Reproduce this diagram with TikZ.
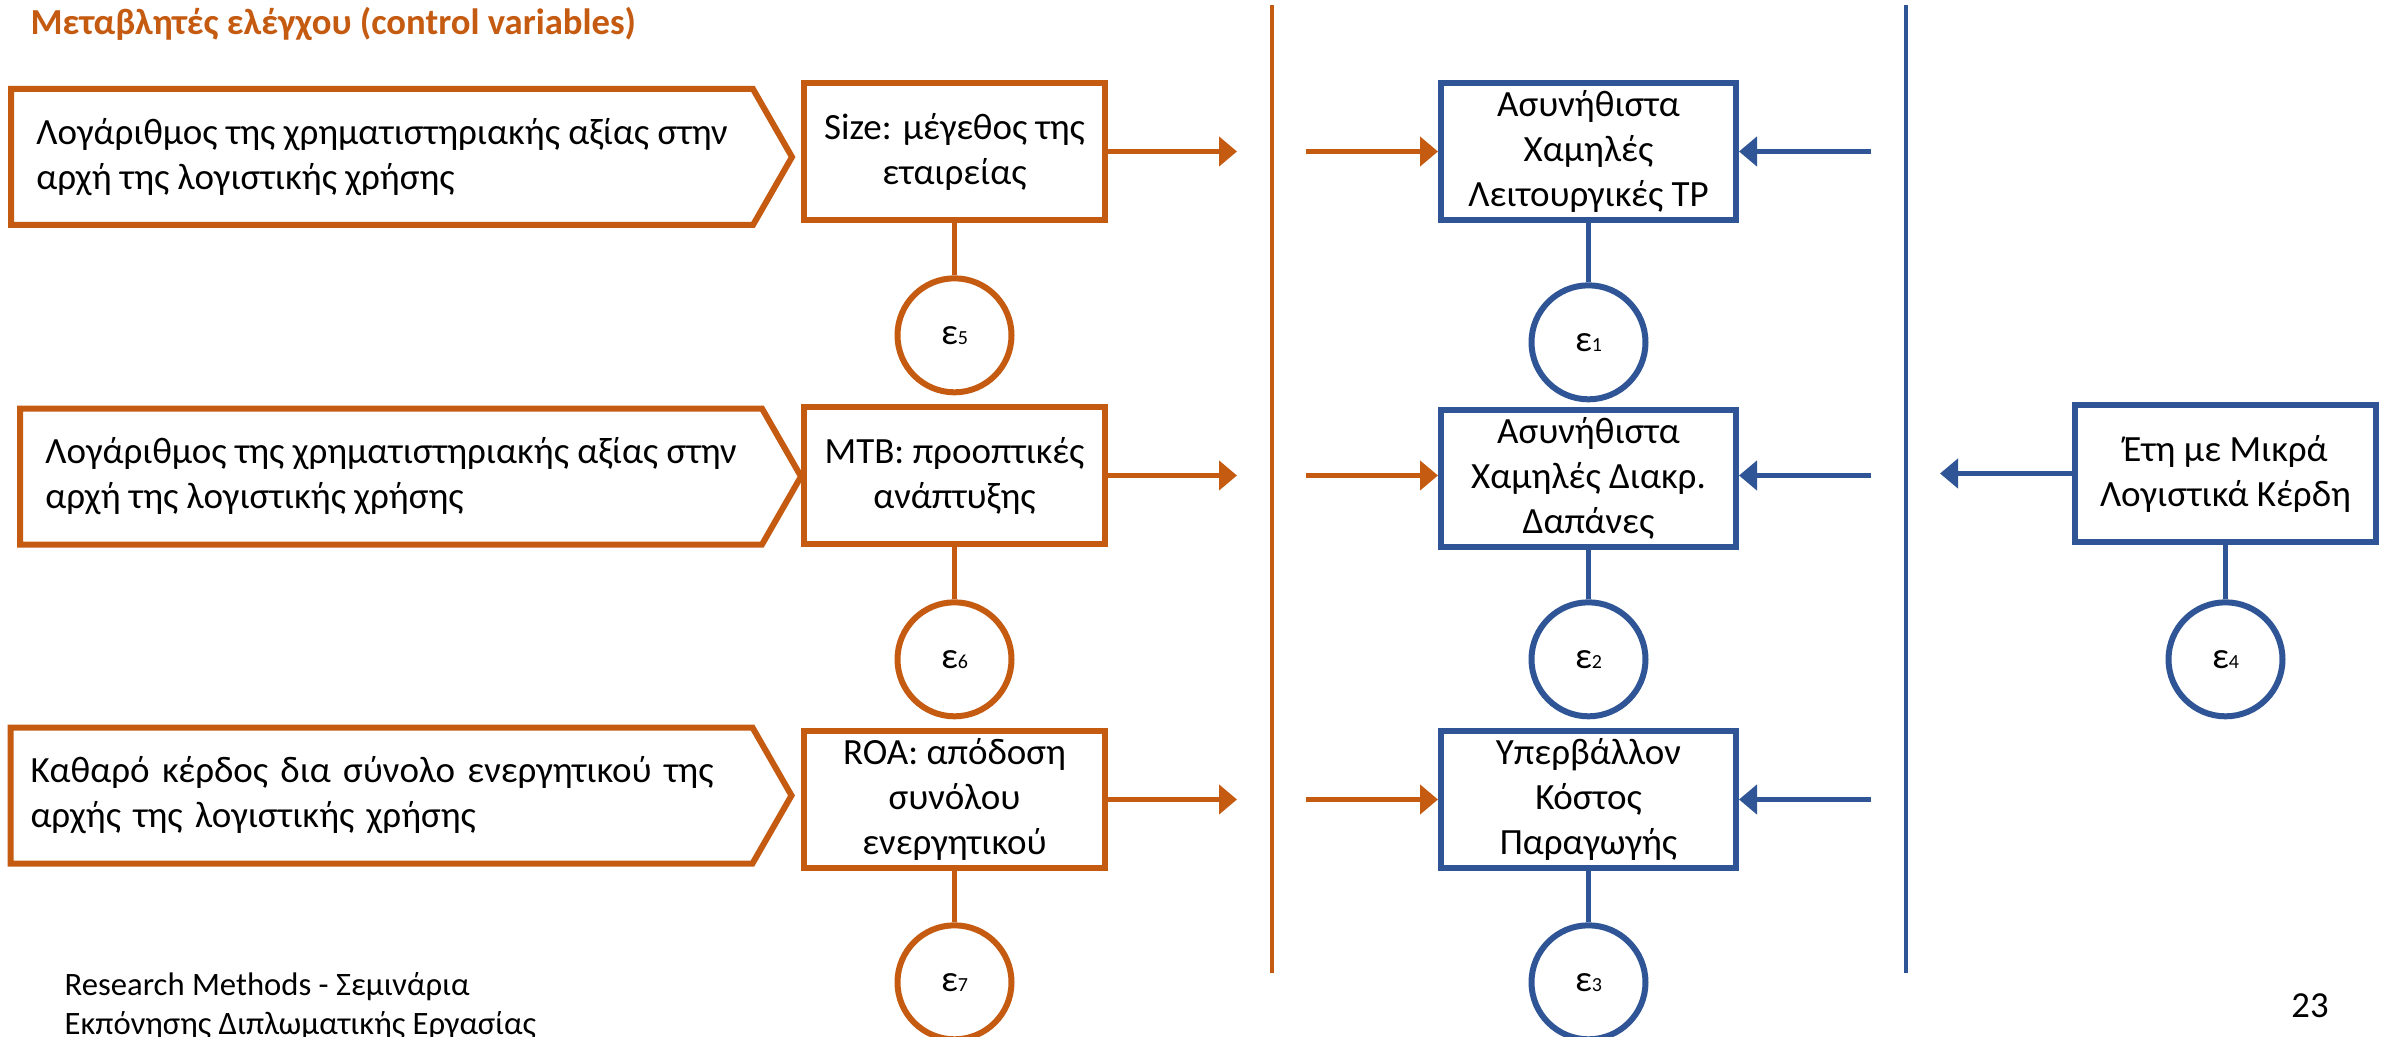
\documentclass[tikz,border=0pt]{standalone}
\usepackage{fontspec}
\setmainfont{Carlito}
\usepackage{tikz}
\usetikzlibrary{arrows.meta,positioning,calc}
\definecolor{ctrlorange}{RGB}{197,90,17}
\definecolor{mainblue}{RGB}{47,85,151}
\newcommand\errlbl[1]{ε{\fontsize{6}{7}\selectfont #1}}

\begin{document}
\begin{tikzpicture}[
  x=0.3pt, y=-0.3pt, >={Triangle[length=5.4pt,width=8.7pt]},
  txt/.style={font=\fontsize{11.1}{13.5}\selectfont},
  proxy/.style={txt, minimum width=222.6pt, minimum height=40.8pt,
                inner xsep=2pt, outer sep=0pt, align=left},
  ctrl/.style={txt, draw=ctrlorange, line width=1.8pt, align=center, inner sep=0pt,
               minimum width=90.3pt, minimum height=41.1pt},
  dep/.style={ctrl, draw=mainblue, minimum width=88.5pt},
  err/.style={txt, circle, draw=#1, line width=1.8pt, minimum size=34.2pt, inner sep=0pt},
  link/.style={draw=#1, line width=1.35pt},
  flow/.style={->, draw=#1, line width=1.65pt}]
\path[use as bounding box, fill=white] (0,0) rectangle (2392,1037);

\node[anchor=west, inner sep=0pt, text=ctrlorange, font=\fontsize{11}{13}\selectfont\bfseries]
  (title) at (30,24) {Μεταβλητές ελέγχου (control variables)};

% control variables, left column
\node[proxy] (pa) at (382,157) {Λογάριθμος της χρηματιστηριακής αξίας στην\\αρχή της λογιστικής χρήσης};
\node[proxy] (pb) at (391,476.5) {Λογάριθμος της χρηματιστηριακής αξίας στην\\αρχή της λογιστικής χρήσης};
\node[proxy, text width=210.6pt, inner xsep=6pt] (pc) at (381.5,795.5) {Καθαρό κέρδος δια σύνολο ενεργητικού της\\αρχής της λογιστικής χρήσης};
\foreach \p in {pa,pb,pc}
  \draw[ctrlorange, line width=1.8pt] (\p.north west) -- (\p.north east)
    -- ($(\p.east)+(11.7pt,0)$) -- (\p.south east) -- (\p.south west) -- cycle;

\node[ctrl] (size) at (954.5,151.5) {Size: μέγεθος της\\εταιρείας};
\node[ctrl, below=54.3pt of size] (mtb) {MTB: προοπτικές\\ανάπτυξης};
\node[ctrl, below=54.3pt of mtb] (roa) {ROA: απόδοση\\συνόλου\\ενεργητικού};
\node[err=ctrlorange, below=15.7pt of size] (e5) {\errlbl{5}};
\node[err=ctrlorange, below=15.7pt of mtb] (e6) {\errlbl{6}};
\node[err=ctrlorange, below=15.4pt of roa] (e7) {\errlbl{7}};

% dependent variables
\node[dep, right=99pt of size] (ba) {Ασυνήθιστα\\Χαμηλές\\Λειτουργικές TP};
\node[dep, right=99pt of mtb, yshift=-1pt] (bb) {Ασυνήθιστα\\Χαμηλές Διακρ.\\Δαπάνες};
\node[dep, right=99pt of roa] (bc) {Υπερβάλλον\\Κόστος\\Παραγωγής};
\node[err=mainblue, below=17.8pt of ba] (e1) {\errlbl{1}};
\node[err=mainblue] (e2) at (bb |- e6) {\errlbl{2}};
\node[err=mainblue] (e3) at (bc |- e7) {\errlbl{3}};

% test variable
\node[ctrl, draw=mainblue] (eta) at (2225.5,473.5) {Έτη με Μικρά\\Λογιστικά Κέρδη};
\node[err=mainblue] (e4) at (eta |- e6) {\errlbl{4}};

% separators and free ends
\coordinate (otop) at (1272,5);
\coordinate (obot) at (1272,973);
\coordinate (btop) at (1906,5);
\coordinate (bbot) at (1906,973);
\coordinate (oout) at (1237,0);
\coordinate (oin) at (1306,0);
\coordinate (bin) at (1871,0);
\coordinate (bout) at (1940,0);
\draw[link=ctrlorange] (otop) -- (obot);
\draw[link=mainblue] (btop) -- (bbot);

\foreach \s/\e in {size/e5,mtb/e6,roa/e7}
  \draw[link=ctrlorange] (\s) -- (\e);
\foreach \s/\e in {ba/e1,bb/e2,bc/e3,eta/e4}
  \draw[link=mainblue] (\s) -- (\e);

\foreach \s/\b in {size/ba,mtb/bb,roa/bc} {
  \draw[flow=ctrlorange] (\s.east) -- (\s.east -| oout);
  \draw[flow=ctrlorange] (\s.east -| oin) -- (\s.east -| \b.west);
  \draw[flow=mainblue] (\s.east -| bin) -- (\s.east -| \b.east);
}
\draw[flow=mainblue] (eta.west) -- (eta.west -| bout);

\node[anchor=west, align=left, inner sep=0pt, font=\fontsize{9.8}{11.7}\selectfont]
  (foot) at (64,1006) {Research Methods - Σεμινάρια\\Εκπόνησης Διπλωματικής Εργασίας};
\node[font=\fontsize{11}{13}\selectfont] (pgnum) at (2310,1006) {23};
\end{tikzpicture}
\end{document}
